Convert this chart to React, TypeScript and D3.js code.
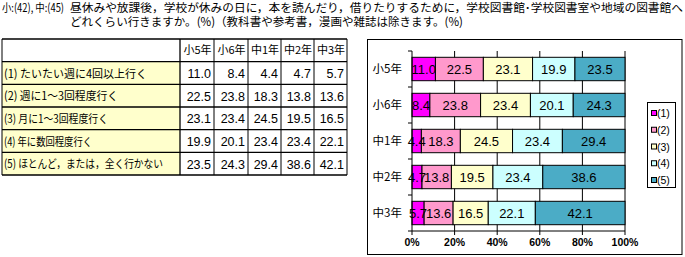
import React from "react";
import * as d3 from "d3";

const grades = ["小5年", "小6年", "中1年", "中2年", "中3年"];
const options = [
  "(1) たいたい週に4回以上行く",
  "(2) 週に1～3回程度行く",
  "(3) 月に1～3回程度行く",
  "(4) 年に数回程度行く",
  "(5) ほとんど，または，全く行かない",
];
const legendLabels = ["(1)", "(2)", "(3)", "(4)", "(5)"];
// values[option][grade]
const opt1 = [11.0, 8.4, 4.4, 4.7, 5.7];
const opt2 = [22.5, 23.8, 18.3, 13.8, 13.6];
const opt3 = [23.1, 23.4, 24.5, 19.5, 16.5];
const opt4 = [19.9, 20.1, 23.4, 23.4, 22.1];
const opt5 = [23.5, 24.3, 29.4, 38.6, 42.1];
const series = [opt1, opt2, opt3, opt4, opt5];
const colors = ["#FF00FF", "#FF99CC", "#FFFFCC", "#CCFFFF", "#4BACC6"];
const xTicks = [0, 20, 40, 60, 80, 100];

const JP = "'Noto Sans CJK JP', sans-serif";
const NUM = "'Liberation Sans', Arial, sans-serif";
// rendered widths of the row labels in the reference (layout)
const labelWidths = [143, 114, 104, 88, 159];

export default function App() {
  // table geometry
  const colX = [2, 180, 214, 248, 281, 314, 347];
  const rowY = d3.range(7).map((i) => 39 + i * 22.67);

  // chart geometry
  const x = d3.scaleLinear().domain([0, 100]).range([412, 625]);
  const y = d3.scaleBand<string>().domain(grades).range([51, 231]).paddingInner(0.35).paddingOuter(0.175);
  const stackData = grades.map((g, gi) => {
    let acc = 0;
    return series.map((s, si) => {
      const v = s[gi];
      const seg = { g, si, v, x0: acc, x1: acc + v };
      acc += v;
      return seg;
    });
  });
  const bandEdges = d3.range(grades.length + 1).map((i) => 51 + i * y.step());

  return (
    <svg width={685} height={257} style={{ position: "absolute", left: 0, top: 0, background: "#fff" }}>
      {/* title */}
      <text x={2} y={12} fontFamily={JP} fontSize={11.5} fill="#000" textLength={62} lengthAdjust="spacingAndGlyphs">小:(42), 中:(45)</text>
      <text x={70} y={12} fontFamily={JP} fontSize={11.5} fill="#000" textLength={613} lengthAdjust="spacingAndGlyphs">
        昼休みや放課後，学校が休みの日に，本を読んだり，借りたりするために，学校図書館･学校図書室や地域の図書館へ
      </text>
      <text x={70} y={26} fontFamily={JP} fontSize={11.5} fill="#000" textLength={393} lengthAdjust="spacingAndGlyphs">
        どれくらい行きますか。(%)（教科書や参考書，漫画や雑誌は除きます。(%)
      </text>

      {/* table */}
      <g>
        {options.map((o, i) => (
          <rect key={"bg" + i} x={colX[0]} y={rowY[i + 1]} width={colX[1] - colX[0]} height={rowY[i + 2] - rowY[i + 1]} fill="#FFFFCC" />
        ))}
        {rowY.map((ry, i) => (
          <line key={"h" + i} x1={colX[0]} x2={colX[6]} y1={ry} y2={ry} stroke="#000" strokeWidth={1.3} />
        ))}
        {colX.map((cx, i) => (
          <line key={"v" + i} x1={cx} x2={cx} y1={rowY[0]} y2={rowY[6]} stroke="#000" strokeWidth={i === 1 ? 1.3 : 1} />
        ))}
        {grades.map((g, i) => (
          <text key={"hd" + i} x={(colX[i + 1] + colX[i + 2]) / 2 + 0.5} y={(rowY[0] + rowY[1]) / 2 + 4} textAnchor="middle" fontFamily={JP} fontSize={11} fill="#000">
            {g}
          </text>
        ))}
        {options.map((o, i) => (
          <text key={"lb" + i} x={4} y={(rowY[i + 1] + rowY[i + 2]) / 2 + 4.5} fontFamily={JP} fontSize={11.5} fill="#000" textLength={labelWidths[i]} lengthAdjust="spacingAndGlyphs">
            {o}
          </text>
        ))}
        {series.map((s, si) =>
          s.map((v, gi) => (
            <text key={"n" + si + gi} x={colX[gi + 2] - 3} y={(rowY[si + 1] + rowY[si + 2]) / 2 + 5} textAnchor="end" fontFamily={NUM} fontSize={12.5} fill="#000">
              {v.toFixed(1)}
            </text>
          ))
        )}
      </g>

      {/* chart frame */}
      <rect x={367.5} y={39.5} width={314.5} height={215} fill="#fff" stroke="#000" strokeWidth={1} />

      {/* gridlines */}
      {xTicks.slice(1).map((t) => (
        <line key={"g" + t} x1={x(t)} x2={x(t)} y1={51} y2={231} stroke="#000" strokeWidth={1} />
      ))}

      {/* bars */}
      {stackData.map((row) =>
        row.map((d) => (
          <rect key={d.g + d.si} x={x(d.x0)} y={y(d.g)!} width={x(d.x1) - x(d.x0)} height={y.bandwidth()} fill={colors[d.si]} stroke="#000" strokeWidth={1} />
        ))
      )}
      {stackData.map((row) =>
        row.map((d) => (
          <text key={"t" + d.g + d.si} x={(x(d.x0) + x(d.x1)) / 2} y={y(d.g)! + y.bandwidth() / 2 + 4.5} textAnchor="middle" fontFamily={NUM} fontSize={13} fill="#000">
            {d.v.toFixed(1)}
          </text>
        ))
      )}

      {/* axes */}
      <line x1={412} x2={412} y1={51} y2={231} stroke="#000" strokeWidth={1} />
      {bandEdges.map((by, i) => (
        <line key={"yt" + i} x1={408} x2={412} y1={by} y2={by} stroke="#000" strokeWidth={1} />
      ))}
      <line x1={412} x2={625} y1={231} y2={231} stroke="#000" strokeWidth={1} />
      {xTicks.map((t) => (
        <g key={"xt" + t}>
          <line x1={x(t)} x2={x(t)} y1={231} y2={235} stroke="#000" strokeWidth={1} />
          <text x={x(t)} y={246} textAnchor="middle" fontFamily={NUM} fontSize={10.5} fontWeight="bold" fill="#000">
            {t}%
          </text>
        </g>
      ))}
      {grades.map((g) => (
        <text key={"yl" + g} x={402} y={y(g)! + y.bandwidth() / 2 + 4} textAnchor="end" fontFamily={JP} fontSize={11.5} fill="#000">
          {g}
        </text>
      ))}

      {/* legend */}
      <rect x={647.5} y={102.5} width={28} height={85} fill="#fff" stroke="#000" strokeWidth={1} />
      {legendLabels.map((l, i) => {
        const cy = 113.5 + i * 16.75;
        return (
          <g key={"lg" + i}>
            <rect x={651.5} y={cy - 3} width={5} height={5} fill={colors[i]} stroke="#000" strokeWidth={1} />
            <text x={657} y={cy + 3.5} fontFamily={NUM} fontSize={10.5} fill="#000">
              {l}
            </text>
          </g>
        );
      })}
    </svg>
  );
}
